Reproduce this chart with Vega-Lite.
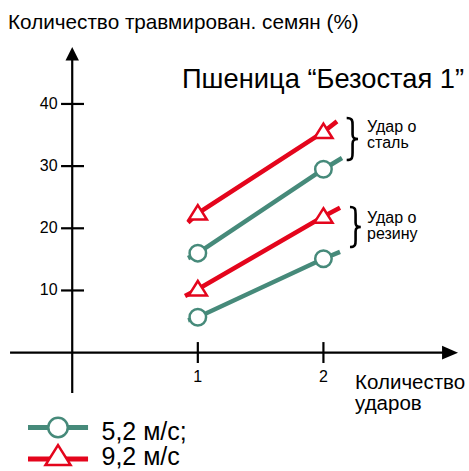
{
  "$schema": "https://vega.github.io/schema/vega-lite/v6.json",
  "width": 469,
  "height": 471,
  "autosize": {"type": "none"},
  "padding": 0,
  "background": "white",
  "config": {"view": {"stroke": null}, "text": {"font": "Liberation Sans", "color": "black"}},
  "datasets": {
    "series": [
      {"surface": "Удар о сталь", "speed": "9,2 м/с", "hits": 0.922, "pct": 20.9, "kind": "end"},
      {"surface": "Удар о сталь", "speed": "9,2 м/с", "hits": 1, "pct": 22.4, "kind": "point"},
      {"surface": "Удар о сталь", "speed": "9,2 м/с", "hits": 2, "pct": 35.5, "kind": "point"},
      {"surface": "Удар о сталь", "speed": "9,2 м/с", "hits": 2.108, "pct": 37.2, "kind": "end"},
      {"surface": "Удар о сталь", "speed": "5,2 м/с", "hits": 0.922, "pct": 15.2, "kind": "end"},
      {"surface": "Удар о сталь", "speed": "5,2 м/с", "hits": 1, "pct": 16.0, "kind": "point"},
      {"surface": "Удар о сталь", "speed": "5,2 м/с", "hits": 2, "pct": 29.5, "kind": "point"},
      {"surface": "Удар о сталь", "speed": "5,2 м/с", "hits": 2.148, "pct": 31.3, "kind": "end"},
      {"surface": "Удар о резину", "speed": "9,2 м/с", "hits": 0.898, "pct": 9.1, "kind": "end"},
      {"surface": "Удар о резину", "speed": "9,2 м/с", "hits": 1, "pct": 10.2, "kind": "point"},
      {"surface": "Удар о резину", "speed": "9,2 м/с", "hits": 2, "pct": 21.9, "kind": "point"},
      {"surface": "Удар о резину", "speed": "9,2 м/с", "hits": 2.132, "pct": 23.3, "kind": "end"},
      {"surface": "Удар о резину", "speed": "5,2 м/с", "hits": 0.922, "pct": 5.2, "kind": "end"},
      {"surface": "Удар о резину", "speed": "5,2 м/с", "hits": 1, "pct": 5.7, "kind": "point"},
      {"surface": "Удар о резину", "speed": "5,2 м/с", "hits": 2, "pct": 15.1, "kind": "point"},
      {"surface": "Удар о резину", "speed": "5,2 м/с", "hits": 2.132, "pct": 16.2, "kind": "end"}
    ]
  },
  "layer": [
    {
      "data": {"values": [{"axis": "x"}]},
      "mark": {"type": "rule", "color": "black", "strokeWidth": 2.2},
      "encoding": {
        "x": {"datum": -0.495, "type": "quantitative", "scale": {"domain": [-0.575, 3.159], "nice": false, "zero": false}, "axis": null},
        "x2": {"datum": 2.96},
        "y": {"datum": 0, "type": "quantitative", "scale": {"domain": [-19.04, 56.72], "nice": false, "zero": false}, "axis": null}
      }
    },
    {
      "data": {"values": [{"axis": "y"}]},
      "mark": {"type": "rule", "color": "black", "strokeWidth": 2.2},
      "encoding": {
        "x": {"datum": 0, "type": "quantitative", "scale": {"domain": [-0.575, 3.159], "nice": false, "zero": false}, "axis": null},
        "y": {"datum": -6.5, "type": "quantitative", "scale": {"domain": [-19.04, 56.72], "nice": false, "zero": false}, "axis": null},
        "y2": {"datum": 47.4}
      }
    },
    {
      "data": {"values": [{"axis": "x"}]},
      "mark": {"type": "point", "shape": "M1,0L-1,-0.85L-1,0.85Z", "filled": true, "fill": "black", "opacity": 1, "size": 256, "strokeWidth": 0},
      "encoding": {
        "x": {"datum": 3.008, "type": "quantitative", "scale": {"domain": [-0.575, 3.159], "nice": false, "zero": false}, "axis": null},
        "y": {"datum": 0, "type": "quantitative", "scale": {"domain": [-19.04, 56.72], "nice": false, "zero": false}, "axis": null}
      }
    },
    {
      "data": {"values": [{"axis": "y"}]},
      "mark": {"type": "point", "shape": "M0,-1L1,1L-1,1Z", "filled": true, "fill": "black", "opacity": 1, "size": 182, "strokeWidth": 0},
      "encoding": {
        "x": {"datum": 0, "type": "quantitative", "scale": {"domain": [-0.575, 3.159], "nice": false, "zero": false}, "axis": null},
        "y": {"datum": 48.07, "type": "quantitative", "scale": {"domain": [-19.04, 56.72], "nice": false, "zero": false}, "axis": null}
      }
    },
    {
      "data": {"values": [{"v": 10}, {"v": 20}, {"v": 30}, {"v": 40}]},
      "mark": {"type": "rule", "color": "black", "strokeWidth": 2.2},
      "encoding": {
        "x": {"datum": -0.089, "type": "quantitative", "scale": {"domain": [-0.575, 3.159], "nice": false, "zero": false}, "axis": null},
        "x2": {"datum": 0.094},
        "y": {"field": "v", "type": "quantitative", "scale": {"domain": [-19.04, 56.72], "nice": false, "zero": false}, "axis": null}
      }
    },
    {
      "data": {"values": [{"v": 10}, {"v": 20}, {"v": 30}, {"v": 40}]},
      "mark": {"type": "text", "align": "right", "baseline": "middle", "fontSize": 16},
      "encoding": {
        "x": {"datum": -0.117, "type": "quantitative", "scale": {"domain": [-0.575, 3.159], "nice": false, "zero": false}, "axis": null},
        "y": {"field": "v", "type": "quantitative", "scale": {"domain": [-19.04, 56.72], "nice": false, "zero": false}, "axis": null},
        "text": {"field": "v", "type": "quantitative"}
      }
    },
    {
      "data": {"values": [{"v": 1}, {"v": 2}]},
      "mark": {"type": "rule", "color": "black", "strokeWidth": 2.2},
      "encoding": {
        "x": {"field": "v", "type": "quantitative", "scale": {"domain": [-0.575, 3.159], "nice": false, "zero": false}, "axis": null},
        "y": {"datum": 1.7, "type": "quantitative", "scale": {"domain": [-19.04, 56.72], "nice": false, "zero": false}, "axis": null},
        "y2": {"datum": -1.67}
      }
    },
    {
      "data": {"values": [{"v": 1}, {"v": 2}]},
      "mark": {"type": "text", "align": "center", "baseline": "middle", "fontSize": 16},
      "encoding": {
        "x": {"field": "v", "type": "quantitative", "scale": {"domain": [-0.575, 3.159], "nice": false, "zero": false}, "axis": null},
        "y": {"datum": -4.0, "type": "quantitative", "scale": {"domain": [-19.04, 56.72], "nice": false, "zero": false}, "axis": null},
        "text": {"field": "v", "type": "quantitative"}
      }
    },
    {
      "data": {"name": "series"},
      "mark": {"type": "line", "strokeWidth": 4.5},
      "encoding": {
        "x": {"field": "hits", "type": "quantitative", "scale": {"domain": [-0.575, 3.159], "nice": false, "zero": false}, "axis": null},
        "y": {"field": "pct", "type": "quantitative", "scale": {"domain": [-19.04, 56.72], "nice": false, "zero": false}, "axis": null},
        "color": {"field": "speed", "type": "nominal", "scale": {"domain": ["5,2 м/с", "9,2 м/с"], "range": ["#468a7a", "#e4051c"]}, "legend": null},
        "detail": {"field": "surface", "type": "nominal"},
        "order": {"field": "hits", "type": "quantitative"}
      }
    },
    {
      "data": {"name": "series"},
      "transform": [{"filter": "datum.kind === 'point'"}],
      "mark": {"type": "point", "filled": true, "fill": "white", "opacity": 1, "size": 272, "strokeWidth": 2.5},
      "encoding": {
        "x": {"field": "hits", "type": "quantitative", "scale": {"domain": [-0.575, 3.159], "nice": false, "zero": false}, "axis": null},
        "y": {"field": "pct", "type": "quantitative", "scale": {"domain": [-19.04, 56.72], "nice": false, "zero": false}, "axis": null},
        "stroke": {"field": "speed", "type": "nominal", "scale": {"domain": ["5,2 м/с", "9,2 м/с"], "range": ["#468a7a", "#e4051c"]}, "legend": null},
        "shape": {"field": "speed", "type": "nominal", "scale": {"domain": ["5,2 м/с", "9,2 м/с"], "range": ["circle", "M0,-1L1.1,0.75L-1.1,0.75Z"]}, "legend": null}
      }
    },
    {
      "data": {"values": [{"speed": "5,2 м/с"}]},
      "mark": {"type": "rule", "color": "#468a7a", "strokeWidth": 5},
      "encoding": {
        "x": {"datum": -0.352, "type": "quantitative", "scale": {"domain": [-0.575, 3.159], "nice": false, "zero": false}, "axis": null},
        "x2": {"datum": 0.126},
        "y": {"datum": -12.05, "type": "quantitative", "scale": {"domain": [-19.04, 56.72], "nice": false, "zero": false}, "axis": null}
      }
    },
    {
      "data": {"values": [{"speed": "5,2 м/с"}]},
      "mark": {"type": "point", "shape": "circle", "filled": true, "fill": "white", "stroke": "#468a7a", "opacity": 1, "size": 380, "strokeWidth": 2.5},
      "encoding": {
        "x": {"datum": -0.113, "type": "quantitative", "scale": {"domain": [-0.575, 3.159], "nice": false, "zero": false}, "axis": null},
        "y": {"datum": -12.05, "type": "quantitative", "scale": {"domain": [-19.04, 56.72], "nice": false, "zero": false}, "axis": null}
      }
    },
    {
      "data": {"values": [{"label": "5,2 м/с;"}]},
      "mark": {"type": "text", "align": "left", "baseline": "alphabetic", "fontSize": 25},
      "encoding": {
        "x": {"datum": 0.233, "type": "quantitative", "scale": {"domain": [-0.575, 3.159], "nice": false, "zero": false}, "axis": null},
        "y": {"datum": -13.98, "type": "quantitative", "scale": {"domain": [-19.04, 56.72], "nice": false, "zero": false}, "axis": null},
        "text": {"field": "label"}
      }
    },
    {
      "data": {"values": [{"speed": "9,2 м/с"}]},
      "mark": {"type": "rule", "color": "#e4051c", "strokeWidth": 5},
      "encoding": {
        "x": {"datum": -0.352, "type": "quantitative", "scale": {"domain": [-0.575, 3.159], "nice": false, "zero": false}, "axis": null},
        "x2": {"datum": 0.126},
        "y": {"datum": -17.11, "type": "quantitative", "scale": {"domain": [-19.04, 56.72], "nice": false, "zero": false}, "axis": null}
      }
    },
    {
      "data": {"values": [{"speed": "9,2 м/с"}]},
      "mark": {"type": "point", "shape": "M0,-1L1.1,0.75L-1.1,0.75Z", "filled": true, "fill": "white", "stroke": "#e4051c", "opacity": 1, "size": 520, "strokeWidth": 2.5},
      "encoding": {
        "x": {"datum": -0.113, "type": "quantitative", "scale": {"domain": [-0.575, 3.159], "nice": false, "zero": false}, "axis": null},
        "y": {"datum": -16.7, "type": "quantitative", "scale": {"domain": [-19.04, 56.72], "nice": false, "zero": false}, "axis": null}
      }
    },
    {
      "data": {"values": [{"label": "9,2 м/с"}]},
      "mark": {"type": "text", "align": "left", "baseline": "alphabetic", "fontSize": 25},
      "encoding": {
        "x": {"datum": 0.233, "type": "quantitative", "scale": {"domain": [-0.575, 3.159], "nice": false, "zero": false}, "axis": null},
        "y": {"datum": -18.08, "type": "quantitative", "scale": {"domain": [-19.04, 56.72], "nice": false, "zero": false}, "axis": null},
        "text": {"field": "label"}
      }
    },
    {
      "data": {"values": [{"label": "Количество травмирован. семян (%)"}]},
      "mark": {"type": "text", "align": "left", "baseline": "alphabetic", "fontSize": 20.7},
      "encoding": {
        "x": {"datum": -0.511, "type": "quantitative", "scale": {"domain": [-0.575, 3.159], "nice": false, "zero": false}, "axis": null},
        "y": {"datum": 52.05, "type": "quantitative", "scale": {"domain": [-19.04, 56.72], "nice": false, "zero": false}, "axis": null},
        "text": {"field": "label"}
      }
    },
    {
      "data": {"values": [{"label": "Пшеница “Безостая 1”"}]},
      "mark": {"type": "text", "align": "left", "baseline": "alphabetic", "fontSize": 27.3},
      "encoding": {
        "x": {"datum": 0.874, "type": "quantitative", "scale": {"domain": [-0.575, 3.159], "nice": false, "zero": false}, "axis": null},
        "y": {"datum": 42.56, "type": "quantitative", "scale": {"domain": [-19.04, 56.72], "nice": false, "zero": false}, "axis": null},
        "text": {"field": "label"}
      }
    },
    {
      "data": {"values": [{"label": "Количество\nударов"}]},
      "mark": {"type": "text", "align": "left", "baseline": "alphabetic", "fontSize": 20.5, "lineBreak": "\n", "lineHeight": 21},
      "encoding": {
        "x": {"datum": 2.252, "type": "quantitative", "scale": {"domain": [-0.575, 3.159], "nice": false, "zero": false}, "axis": null},
        "y": {"datum": -5.9, "type": "quantitative", "scale": {"domain": [-19.04, 56.72], "nice": false, "zero": false}, "axis": null},
        "text": {"field": "label"}
      }
    },
    {
      "data": {"values": [{"label": "Удар о\nсталь"}]},
      "mark": {"type": "text", "align": "left", "baseline": "alphabetic", "fontSize": 16, "lineBreak": "\n", "lineHeight": 16.6},
      "encoding": {
        "x": {"datum": 2.347, "type": "quantitative", "scale": {"domain": [-0.575, 3.159], "nice": false, "zero": false}, "axis": null},
        "y": {"datum": 35.53, "type": "quantitative", "scale": {"domain": [-19.04, 56.72], "nice": false, "zero": false}, "axis": null},
        "text": {"field": "label"}
      }
    },
    {
      "data": {"values": [{"label": "Удар о\nрезину"}]},
      "mark": {"type": "text", "align": "left", "baseline": "alphabetic", "fontSize": 16, "lineBreak": "\n", "lineHeight": 16.6},
      "encoding": {
        "x": {"datum": 2.347, "type": "quantitative", "scale": {"domain": [-0.575, 3.159], "nice": false, "zero": false}, "axis": null},
        "y": {"datum": 20.89, "type": "quantitative", "scale": {"domain": [-19.04, 56.72], "nice": false, "zero": false}, "axis": null},
        "text": {"field": "label"}
      }
    },
    {
      "data": {"values": [{"group": "Удар о сталь"}]},
      "mark": {"type": "point", "shape": "M-0.28,-1C0.02,-1 0,-0.85 0,-0.6L0,-0.22C0,-0.05 0.08,0 0.26,0C0.08,0 0,0.05 0,0.22L0,0.6C0,0.85 0.02,1 -0.28,1", "filled": false, "fill": null, "stroke": "black", "opacity": 1, "size": 1764, "strokeWidth": 2.6},
      "encoding": {
        "x": {"datum": 2.232, "type": "quantitative", "scale": {"domain": [-0.575, 3.159], "nice": false, "zero": false}, "axis": null},
        "y": {"datum": 34.36, "type": "quantitative", "scale": {"domain": [-19.04, 56.72], "nice": false, "zero": false}, "axis": null}
      }
    },
    {
      "data": {"values": [{"group": "Удар о резину"}]},
      "mark": {"type": "point", "shape": "M-0.28,-1C0.02,-1 0,-0.85 0,-0.6L0,-0.22C0,-0.05 0.08,0 0.26,0C0.08,0 0,0.05 0,0.22L0,0.6C0,0.85 0.02,1 -0.28,1", "filled": false, "fill": null, "stroke": "black", "opacity": 1, "size": 1600, "strokeWidth": 2.6},
      "encoding": {
        "x": {"datum": 2.256, "type": "quantitative", "scale": {"domain": [-0.575, 3.159], "nice": false, "zero": false}, "axis": null},
        "y": {"datum": 20.2, "type": "quantitative", "scale": {"domain": [-19.04, 56.72], "nice": false, "zero": false}, "axis": null}
      }
    }
  ]
}
